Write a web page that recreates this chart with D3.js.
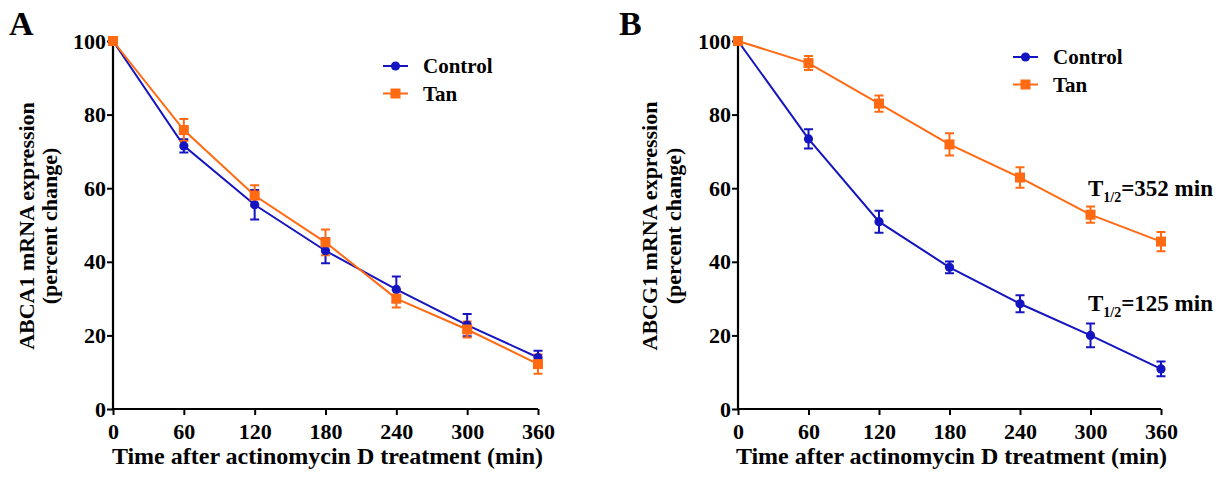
<!DOCTYPE html>
<html><head><meta charset="utf-8">
<script src="https://cdn.jsdelivr.net/npm/d3@7"></script>
<style>body{margin:0;background:#fff}svg{display:block}text{font-family:"Liberation Serif","Times New Roman",serif;font-weight:bold;fill:#000}</style>
</head><body><svg id="c" width="1229" height="481"></svg>
<script>
const times = [0, 60, 120, 180, 240, 300, 360];
const yTicks = [0, 20, 40, 60, 80, 100];
const seriesNames = ["Control", "Tan"];
// Panel A (ABCA1)
const aControl = [100, 71.5, 55.5, 43, 32.5, 22.8, 14];
const aControlErr = [0, 1.8, 4, 3.4, 3.5, 3, 1.8];
const aTan = [100, 75.8, 58, 45.3, 30, 21.6, 12.2];
const aTanErr = [0, 3, 2.8, 3.5, 2.4, 2.2, 2.6];
// Panel B (ABCG1)
const bControl = [100, 73.4, 50.9, 38.5, 28.6, 20, 10.9];
const bControlErr = [0, 2.6, 3, 1.6, 2.3, 3.2, 2];
const bTan = [100, 94, 83, 71.9, 62.9, 52.8, 45.5];
const bTanErr = [0, 1.9, 2.2, 3, 2.8, 2.2, 2.6];
const halfLifeLabels = [{sub: "1/2", text: "=352 min"}, {sub: "1/2", text: "=125 min"}];

const BLUE = "#1414c0", ORANGE = "#ff6a12";
const svg = d3.select("#c");

function panel(opt) {
  const x = d3.scaleLinear().domain([0, 360]).range([opt.x0, opt.x1]);
  const y = d3.scaleLinear().domain([0, 100]).range([409, 41]);
  const g = svg.append("g");
  const xa = g.append("g").attr("transform", `translate(0,${y(0)})`)
    .call(d3.axisBottom(x).tickValues(times).tickSize(6).tickPadding(8).tickFormat(d3.format("d")));
  const ya = g.append("g").attr("transform", `translate(${x(0)},0)`)
    .call(d3.axisLeft(y).tickValues(yTicks).tickSize(6).tickPadding(1).tickFormat(d3.format("d")));
  [xa, ya].forEach(a => {
    a.attr("font-size", null).attr("font-family", null);
    a.select(".domain").attr("stroke", "#000").attr("stroke-width", 2.2);
    a.selectAll(".tick line").attr("stroke", "#000").attr("stroke-width", 2);
    a.selectAll("text").style("font-size", "22px").style("font-family", "Liberation Serif").style("font-weight", "bold").attr("fill", "#000");
  });
  xa.select(".domain").attr("d", `M${x(0)},0H${x(360)}`);
  ya.select(".domain").attr("d", `M0,${y(0)}V${y(100)}`);

  g.append("text").attr("x", (opt.x0 + opt.x1) / 2 + 2).attr("y", 464)
    .attr("text-anchor", "middle").style("font-size", "24px").text("Time after actinomycin D treatment (min)");
  const cy = 226;
  g.append("text").attr("transform", `translate(${opt.yt1},${cy}) rotate(-90)`)
    .attr("text-anchor", "middle").style("font-size", "22px").text(opt.ytitle);
  g.append("text").attr("transform", `translate(${opt.yt2},${cy}) rotate(-90)`)
    .attr("text-anchor", "middle").style("font-size", "22px").text("(percent change)");
  g.append("text").attr("x", opt.lx).attr("y", 35).style("font-size", "34px").text(opt.letter);

  const line = d3.line().x((d, i) => x(times[i])).y(d => y(d));
  opt.series.forEach(s => {
    const sg = g.append("g");
    sg.append("path").attr("d", line(s.vals)).attr("fill", "none").attr("stroke", s.color).attr("stroke-width", 2);
    s.vals.forEach((v, i) => {
      const e = s.err[i];
      if (e > 0) {
        const cx = x(times[i]);
        sg.append("path").attr("d", `M${cx},${y(v - e)}V${y(v + e)}M${cx - 4.5},${y(v - e)}H${cx + 4.5}M${cx - 4.5},${y(v + e)}H${cx + 4.5}`)
          .attr("stroke", s.color).attr("stroke-width", 2).attr("fill", "none");
      }
    });
  });
  opt.series.forEach(s => {
    s.vals.forEach((v, i) => {
      if (s.shape === "circle")
        g.append("circle").attr("cx", x(times[i])).attr("cy", y(v)).attr("r", 4.6).attr("fill", s.color);
      else
        g.append("rect").attr("x", x(times[i]) - 5).attr("y", y(v) - 5).attr("width", 10).attr("height", 10).attr("fill", s.color);
    });
  });
  // legend
  opt.series.forEach((s, i) => {
    const ly = opt.legY + i * 27.5;
    g.append("line").attr("x1", opt.legX).attr("x2", opt.legX + 25).attr("y1", ly).attr("y2", ly).attr("stroke", s.color).attr("stroke-width", 2);
    if (s.shape === "circle")
      g.append("circle").attr("cx", opt.legX + 12.5).attr("cy", ly).attr("r", 4.6).attr("fill", s.color);
    else
      g.append("rect").attr("x", opt.legX + 7.5).attr("y", ly - 5).attr("width", 10).attr("height", 10).attr("fill", s.color);
    g.append("text").attr("x", opt.legX + 40).attr("y", ly + 7).style("font-size", "21px").text(seriesNames[i]);
  });
  return {x, y, g};
}

panel({x0: 113, x1: 538, ytitle: "ABCA1 mRNA expression", yt1: 34, yt2: 57, letter: "A", lx: 9,
  legX: 383, legY: 66,
  series: [{vals: aControl, err: aControlErr, color: BLUE, shape: "circle"},
           {vals: aTan, err: aTanErr, color: ORANGE, shape: "square"}]});
const pb = panel({x0: 738, x1: 1161, ytitle: "ABCG1 mRNA expression", yt1: 657, yt2: 681, letter: "B", lx: 619,
  legX: 1013, legY: 57,
  series: [{vals: bControl, err: bControlErr, color: BLUE, shape: "circle"},
           {vals: bTan, err: bTanErr, color: ORANGE, shape: "square"}]});

[[1088, 196], [1088, 311]].forEach((p, i) => {
  const t = pb.g.append("text").attr("x", p[0]).attr("y", p[1]).style("font-size", "23px");
  t.append("tspan").text("T");
  t.append("tspan").style("font-size", "14px").attr("dy", 6).text(halfLifeLabels[i].sub);
  t.append("tspan").attr("dy", -6).text(halfLifeLabels[i].text);
});
</script></body></html>
